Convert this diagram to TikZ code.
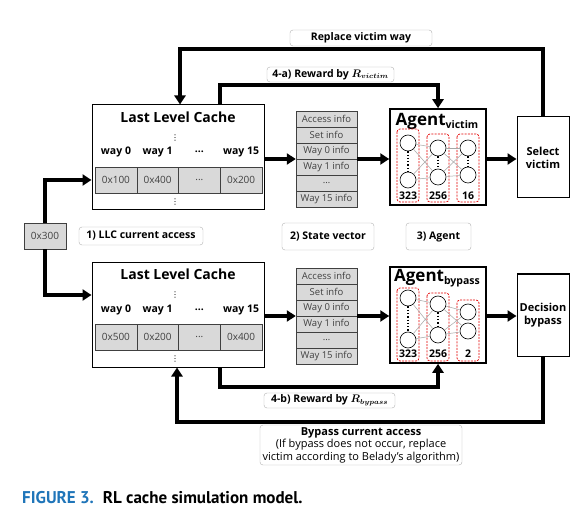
\documentclass[tikz,border=0pt]{standalone}
\usepackage{amsmath}
\usepackage{bm}
\usepackage{fontspec}
\setmainfont{Open Sans}
\newfontfamily\capfont{PT Sans}
\newfontfamily\dotfont{DejaVu Sans}
\usepackage{xcolor}
\usepackage{tikz}
\usetikzlibrary{arrows.meta, positioning, calc}
\definecolor{cellgray}{HTML}{D9D9D9}
\definecolor{textgray}{HTML}{404040}
\definecolor{capblue}{HTML}{1F75B9}
\tikzset{
  flow/.style={line width=3.5pt, -{Triangle[length=9pt,width=11pt]}},
  cachebox/.style={draw, line width=1pt, minimum width=172pt, minimum height=105pt, inner sep=0pt},
  cell/.style={draw=textgray, fill=cellgray, minimum width=41.75pt, minimum height=26pt, inner sep=0pt, text=textgray, font=\fontsize{10}{12}\selectfont},
  wayl/.style={font=\bfseries\fontsize{10.5}{12}\selectfont, inner sep=0pt},
  vdot/.style={font=\dotfont\fontsize{8}{8}\selectfont, inner sep=0pt},
  srow/.style={draw=textgray, fill=cellgray, minimum width=61pt, minimum height=16pt, inner sep=0pt, text=textgray, font=\fontsize{9.5}{11}\selectfont},
  agentbox/.style={draw, line width=1.5pt, minimum width=96pt, minimum height=96pt, inner sep=0pt},
  layer/.style={draw=red!90!black, dashed, dash pattern=on 2pt off 1.2pt, rounded corners=3pt, line width=0.7pt},
  neuron/.style={draw, circle, minimum size=16pt, inner sep=0pt, line width=0.6pt},
  syn/.style={gray!70, line width=0.5pt},
  ndots/.style={line width=1.3pt, dotted},
  nsize/.style={font=\bfseries\fontsize{10.5}{12}\selectfont, inner sep=0pt},
  decide/.style={draw, line width=1pt, minimum width=52pt, minimum height=81pt, inner sep=0pt, align=center, font=\bfseries\fontsize{11}{13}\selectfont},
  tag/.style={draw=gray!60, rounded corners=3pt, fill=white, inner sep=0pt, align=center, font=\bfseries\fontsize{10.5}{12}\selectfont},
}

\begin{document}
\begin{tikzpicture}[x=1pt, y=-1pt]
    \useasboundingbox[fill=white] (0,0) rectangle (580,518);

    % Address
    \node[cell, minimum width=42pt] (addr) at (45,236) {0x300};
    \node[tag, minimum width=124pt, minimum height=18pt] (tag1) at (141,236) {1) LLC current access};

    % Upper cache
    \node[cachebox] (llcA) at (178,157.5) {};
    \node[font=\bfseries\fontsize{14}{16}\selectfont, inner sep=0pt] (llcAt) at (178,117) {Last Level Cache};
    \node[vdot] (dotA1) at (175,138) {⋮};
    \node[wayl] (wA1) at (116,152) {way 0};
    \node[wayl] (wA2) at (157.6,152) {way 1};
    \node[wayl] (wA3) at (199.4,152) {...};
    \node[wayl] (wA4) at (241.1,152) {way 15};
    \node[cell] (cA1) at (115.9,180) {0x100};
    \node[cell] (cA2) at (157.6,180) {0x400};
    \node[cell] (cA3) at (199.4,180) {...};
    \node[cell] (cA4) at (241.1,180) {0x200};
    \node[vdot] (dotA2) at (175,202) {⋮};

    % Lower cache
    \node[cachebox, minimum height=104pt] (llcB) at (178,315) {};
    \node[font=\bfseries\fontsize{14}{16}\selectfont, inner sep=0pt] (llcBt) at (178,274) {Last Level Cache};
    \node[vdot] (dotB1) at (175,295) {⋮};
    \node[wayl] (wB1) at (116,310) {way 0};
    \node[wayl] (wB2) at (157.6,310) {way 1};
    \node[wayl] (wB3) at (199.4,310) {...};
    \node[wayl] (wB4) at (241.1,310) {way 15};
    \node[cell] (cB1) at (115.9,337) {0x500};
    \node[cell] (cB2) at (157.6,337) {0x200};
    \node[cell] (cB3) at (199.4,337) {...};
    \node[cell] (cB4) at (241.1,337) {0x400};
    \node[vdot] (dotB2) at (175,359) {⋮};

    % State vectors
    \node[minimum width=61pt, minimum height=96pt, inner sep=0pt] (stateA) at (326.5,159) {};
    \node[minimum width=61pt, minimum height=96pt, inner sep=0pt] (stateB) at (326.5,316) {};
    \foreach \t [count=\i] in {Access info, Set info, Way 0 info, Way 1 info, \ldots, Way 15 info} {
        \node[srow] (sA\i) at (326.5,103+16*\i) {\t};
        \node[srow] (sB\i) at (326.5,260+16*\i) {\t};
    }
    \node[tag, minimum width=92pt, minimum height=27pt] (tag2) at (328,236.5) {2) State vector};

    % Agents
    \node[agentbox] (agentA) at (438,157) {};
    \node[inner sep=0pt] (agentAt) at (437,121) {\fontsize{17}{18}\selectfont\bfseries Agent\raisebox{-3pt}{\fontsize{10.5}{12}\selectfont victim}};
    \draw[layer] (397,129) rectangle (419,202);
    \draw[layer] (427,134) rectangle (449,202);
    \draw[layer] (457,134) rectangle (479,202);
    \node[neuron] (nA11) at (408,143) {};
    \node[neuron] (nA12) at (408,180) {};
    \node[neuron] (nA21) at (438,148) {};
    \node[neuron] (nA22) at (438,177) {};
    \node[neuron] (nA31) at (468,148) {};
    \node[neuron] (nA32) at (468,175) {};
    \foreach \a in {1,2} \foreach \b in {1,2} {
        \draw[syn] (nA1\a) -- (nA2\b);
        \draw[syn] (nA2\a) -- (nA3\b);
    }
    \draw[ndots] (nA11) -- (nA12);
    \draw[ndots] (nA21) -- (nA22);
    \draw[ndots] (nA31) -- (nA32);
    \node[nsize] at (408,196) {323};
    \node[nsize] at (438,196) {256};
    \node[nsize] at (468,196) {16};

    \node[agentbox] (agentB) at (438,315) {};
    \node[inner sep=0pt] (agentBt) at (437,278) {\fontsize{17}{18}\selectfont\bfseries Agent\raisebox{-3pt}{\fontsize{10.5}{12}\selectfont bypass}};
    \draw[layer] (397,288) rectangle (419,361);
    \draw[layer] (427,293) rectangle (449,361);
    \draw[layer] (457,300) rectangle (479,361);
    \node[neuron] (nB11) at (408,298) {};
    \node[neuron] (nB12) at (408,340) {};
    \node[neuron] (nB21) at (438,304) {};
    \node[neuron] (nB22) at (438,335) {};
    \node[neuron] (nB31) at (468,312) {};
    \node[neuron] (nB32) at (468,331) {};
    \foreach \a in {1,2} \foreach \b in {1,2} {
        \draw[syn] (nB1\a) -- (nB2\b);
        \draw[syn] (nB2\a) -- (nB3\b);
    }
    \draw[ndots] (nB11) -- (nB12);
    \draw[ndots] (nB21) -- (nB22);
    \node[nsize] at (408,354) {323};
    \node[nsize] at (438,354) {256};
    \node[nsize] at (468,354) {2};
    \node[tag, minimum width=65pt, minimum height=27pt] (tag3) at (438.5,236.5) {3) Agent};

    % Decisions
    \node[decide] (selA) at (543,157.5) {Select\\victim};
    \node[decide, minimum height=82pt] (decB) at (543,315) {Decision\\bypass};

    % Bends
    \coordinate (topbend) at (180,49);
    \coordinate (rwA) at (220,85);
    \coordinate (rwB) at (220,387);
    \coordinate (botbend) at (177,422);

    % Arrows
    \draw[flow] (addr.north) |- (llcA.west |- cA1);
    \draw[flow] (addr.south) |- (llcB.west |- dotB1);
    \draw[flow] (llcA.east |- stateA) -- (stateA.west);
    \draw[flow] (llcB.east |- stateB) -- (stateB.west);
    \draw[flow] (stateA.east) -- (agentA.west |- stateA);
    \draw[flow] (stateB.east) -- (agentB.west |- stateB);
    \draw[flow] (agentA.east |- stateA) -- (selA.west |- stateA);
    \draw[flow] (agentB.east |- stateB) -- (selA.west |- stateB);
    \draw[flow] (selA.north) |- (topbend) -- (llcA.north -| topbend);
    \draw[flow] (llcA.north -| rwA) -- (rwA) -| (agentA.north);
    \draw[flow] (llcB.south -| rwB) -- (rwB) -| (agentB.south);
    \draw[flow] (decB.south) |- (botbend) -- (llcB.south -| botbend);

    % Labels
    \node[tag, minimum width=142pt, minimum height=16pt] (tagR) at (361,38) {Replace victim way};
    \node[tag, minimum width=127pt, minimum height=15pt] (tag4a) at (330.5,74.5) {4-a) Reward by $\bm{R_{victim}}$};
    \node[tag, minimum width=131pt, minimum height=15pt] (tag4b) at (329.5,400.5) {4-b) Reward by $\bm{R_{bypass}}$};
    \node[tag, minimum width=202pt, minimum height=40pt, font=\fontsize{11}{12.5}\selectfont] (tagB) at (361,445) {\textbf{Bypass current access}\\(If bypass does not occur, replace\\victim according to Belady's algorithm)};

    % Caption
    \node[anchor=west, inner sep=0pt, font=\capfont\bfseries\fontsize{17}{19}\selectfont] (cap) at (22,498) {\textcolor{capblue}{FIGURE 3.}\hspace{9pt}RL cache simulation model.};
\end{tikzpicture}
\end{document}
